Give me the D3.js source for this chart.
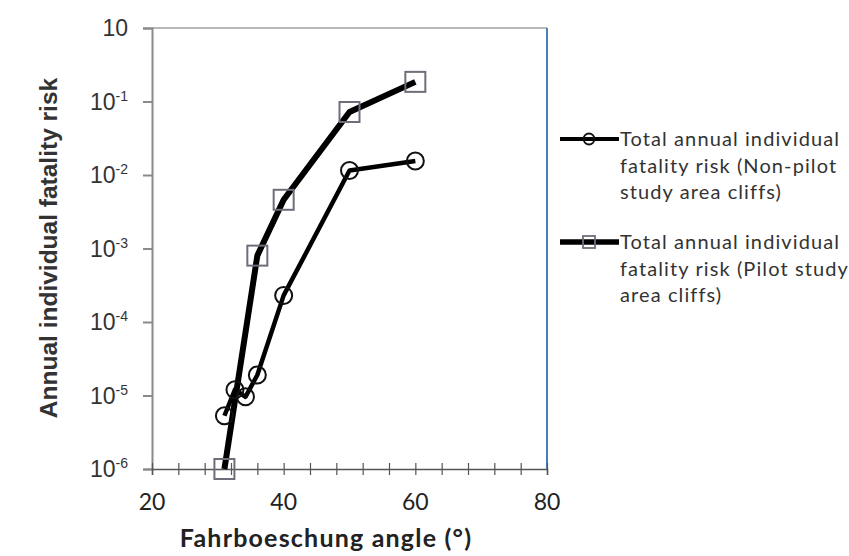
<!DOCTYPE html>
<html>
<head>
<meta charset="utf-8">
<script src="https://cdn.jsdelivr.net/npm/d3@7"></script>
<style>
  body { margin: 0; background: #fff; }
  svg { display: block; }
</style>
</head>
<body>
<div id="chart"></div>
<script>
// values
const nonPilotAngle = [31, 32.6, 34.2, 36, 40, 50, 60];
const nonPilotRisk = [5.3e-6, 1.2e-5, 9.6e-6, 1.9e-5, 2.3e-4, 1.15e-2, 1.55e-2];
const pilotAngle = [31, 36, 40, 50, 60];
const pilotRisk = [1e-6, 8e-4, 4.6e-3, 7.2e-2, 0.185];
const xTicks = [20, 40, 60, 80];
const yTicks = [1, 1e-1, 1e-2, 1e-3, 1e-4, 1e-5, 1e-6];
const yTickLabels = ["", "-1", "-2", "-3", "-4", "-5", "-6"];
const legendLabels = [
  ["Total annual individual", "fatality risk (Non-pilot", "study area cliffs)"],
  ["Total annual individual", "fatality risk (Pilot study", "area cliffs)"]
];

const W = 849, H = 556;
const svg = d3.select("#chart").append("svg").attr("width", W).attr("height", H);

const x = d3.scaleLinear().domain([20, 80]).range([152, 547]);
const y = d3.scaleLog().domain([1e-6, 1]).range([469, 28]);

// plot frame: top grey, right blue
svg.append("line").attr("x1", x(20)).attr("x2", x(80)).attr("y1", y(1)).attr("y2", y(1))
  .attr("stroke", "#a0a0a0").attr("stroke-width", 1.5);
svg.append("line").attr("x1", x(80)).attr("x2", x(80)).attr("y1", y(1)).attr("y2", y(1e-6))
  .attr("stroke", "#4a7ebb").attr("stroke-width", 2);

// y axis
const yAxis = svg.append("g").attr("transform", `translate(${x(20)},0)`)
  .call(d3.axisLeft(y).tickValues(yTicks).tickSize(9).tickFormat(""));
yAxis.select(".domain").attr("stroke", "#8a8a8a").attr("stroke-width", 2);
yAxis.selectAll(".tick line").attr("stroke", "#8a8a8a").attr("stroke-width", 2);

yTicks.forEach((v, i) => {
  const t = svg.append("text")
    .attr("x", 128).attr("y", y(v) + 8)
    .attr("text-anchor", "end")
    .attr("font-family", "Liberation Sans, Arial, sans-serif")
    .attr("font-size", 23).attr("fill", "#333");
  t.append("tspan").text("10");
  if (yTickLabels[i]) {
    t.append("tspan").attr("dy", -9).attr("font-size", 14).text(yTickLabels[i]);
  }
});

// x axis
const xAxis = svg.append("g").attr("transform", `translate(0,${y(1e-6)})`)
  .call(d3.axisBottom(x).tickValues(d3.range(20, 81, 4)).tickSize(6).tickFormat(""));
xAxis.select(".domain").attr("stroke", "#555").attr("stroke-width", 1.5);
xAxis.selectAll(".tick line").attr("stroke", "#555").attr("stroke-width", 1.2)
  .attr("y1", -6).attr("y2", 6);

svg.selectAll(".xlab").data(xTicks).enter().append("text")
  .attr("x", d => x(d)).attr("y", 510)
  .attr("text-anchor", "middle")
  .attr("font-family", "Lato, 'Open Sans', sans-serif")
  .attr("font-size", 23).attr("fill", "#222")
  .text(d => d);

// axis titles
svg.append("text")
  .attr("x", 326).attr("y", 547)
  .attr("text-anchor", "middle")
  .attr("font-family", "Lato, 'Open Sans', sans-serif")
  .attr("font-weight", "bold").attr("font-size", 25).attr("fill", "#222")
  .attr("letter-spacing", 1.2)
  .text("Fahrboeschung angle (°)");

svg.append("text")
  .attr("transform", "translate(57,248) rotate(-90)")
  .attr("text-anchor", "middle")
  .attr("font-family", "Liberation Sans, Arial, sans-serif")
  .attr("font-weight", "bold").attr("font-size", 24.5).attr("fill", "#333")
  .text("Annual individual fatality risk");

// series
const nonPilot = nonPilotAngle.map((a, i) => [a, nonPilotRisk[i]]);
const pilot = pilotAngle.map((a, i) => [a, pilotRisk[i]]);
const line = d3.line().x(d => x(d[0])).y(d => y(d[1]));

svg.append("path").datum(pilot).attr("d", line)
  .attr("fill", "none").attr("stroke", "#000").attr("stroke-width", 6)
  .attr("stroke-linejoin", "round");
svg.append("path").datum(nonPilot).attr("d", line)
  .attr("fill", "none").attr("stroke", "#000").attr("stroke-width", 4.5)
  .attr("stroke-linejoin", "round");

svg.selectAll(".sq").data(pilot).enter().append("rect")
  .attr("x", d => x(d[0]) - 10).attr("y", d => y(d[1]) - 10)
  .attr("width", 20).attr("height", 20)
  .attr("fill", "none").attr("stroke", "#6e6e7a").attr("stroke-width", 2);

svg.selectAll(".ci").data(nonPilot).enter().append("circle")
  .attr("cx", d => x(d[0])).attr("cy", d => y(d[1])).attr("r", 8.5)
  .attr("fill", "none").attr("stroke", "#111").attr("stroke-width", 2);

// legend
const legY = [139, 242];
legendLabels.forEach((lines, i) => {
  const g = svg.append("g");
  g.append("line").attr("x1", 560).attr("x2", 619).attr("y1", legY[i]).attr("y2", legY[i])
    .attr("stroke", "#000").attr("stroke-width", i === 0 ? 4 : 5.5);
  if (i === 0) {
    g.append("circle").attr("cx", 589).attr("cy", legY[i]).attr("r", 5.5)
      .attr("fill", "none").attr("stroke", "#111").attr("stroke-width", 1.8);
  } else {
    g.append("rect").attr("x", 583).attr("y", legY[i] - 6).attr("width", 12).attr("height", 12)
      .attr("fill", "none").attr("stroke", "#6e6e7a").attr("stroke-width", 1.8);
  }
  lines.forEach((s, j) => {
    g.append("text")
      .attr("x", 620).attr("y", legY[i] + 7 + j * 26.5)
      .attr("font-family", "Lato, 'Open Sans', sans-serif")
      .attr("font-size", 20).attr("fill", "#333")
      .attr("letter-spacing", 1.1)
      .text(s);
  });
});
</script>
</body>
</html>
